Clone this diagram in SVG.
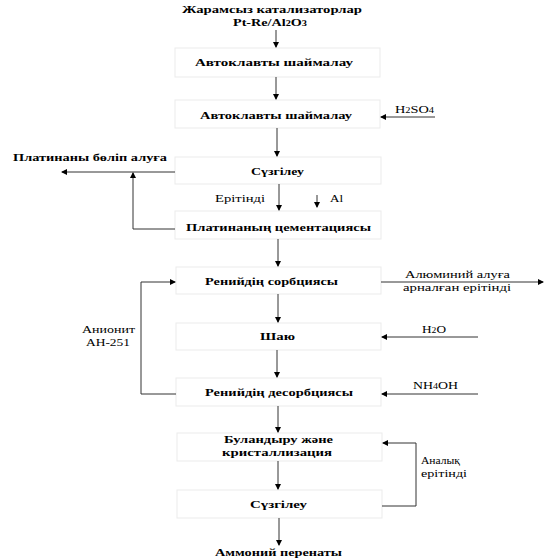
<svg xmlns="http://www.w3.org/2000/svg" width="553" height="560" viewBox="0 0 553 560">
<style>
.box{fill:#fff;stroke:#ebebeb;stroke-width:1}
.b{font-family:"Liberation Serif","Times New Roman",serif;font-weight:bold;font-size:11px;fill:#000}
.n{font-family:"Liberation Serif","Times New Roman",serif;font-size:11px;fill:#000}
.c{fill:none;stroke:#333;stroke-width:1}
</style>
<defs>
<marker id="ah" markerWidth="6" markerHeight="6" refX="5" refY="3" orient="auto" markerUnits="userSpaceOnUse">
<path d="M0,0 L6,3 L0,6 Z" fill="#000"/>
</marker>
</defs>
<rect width="553" height="560" fill="#fff"/>
<g id="start">
<text class="b" x="182" y="13" textLength="180" lengthAdjust="spacingAndGlyphs">Жарамсыз катализаторлар</text>
<text class="b" x="233" y="26" textLength="74" lengthAdjust="spacingAndGlyphs">Pt-Re/Al<tspan font-size="8">2</tspan>O<tspan font-size="8">3</tspan></text>
</g>
<g id="n1"><rect class="box" x="175" y="48" width="205" height="29"/>
<text class="b" x="195" y="66" textLength="158" lengthAdjust="spacingAndGlyphs">Автоклавты шаймалау</text></g>
<g id="n2"><rect class="box" x="175" y="100" width="205" height="28"/>
<text class="b" x="200" y="119" textLength="152" lengthAdjust="spacingAndGlyphs">Автоклавты шаймалау</text></g>
<g id="n3"><rect class="box" x="175" y="157" width="206" height="27"/>
<text class="b" x="251" y="175" textLength="53" lengthAdjust="spacingAndGlyphs">Сүзгілеу</text></g>
<g id="n4"><rect class="box" x="175" y="211" width="206" height="28"/>
<text class="b" x="186" y="231" textLength="185" lengthAdjust="spacingAndGlyphs">Платинаның цементациясы</text></g>
<g id="n5"><rect class="box" x="176" y="267" width="205" height="27"/>
<text class="b" x="205" y="285" textLength="133" lengthAdjust="spacingAndGlyphs">Ренийдің сорбциясы</text></g>
<g id="n6"><rect class="box" x="176" y="323" width="205" height="27"/>
<text class="b" x="260" y="340" textLength="35" lengthAdjust="spacingAndGlyphs">Шаю</text></g>
<g id="n7"><rect class="box" x="176" y="378" width="205" height="28"/>
<text class="b" x="205" y="396" textLength="148" lengthAdjust="spacingAndGlyphs">Ренийдің десорбциясы</text></g>
<g id="n8"><rect class="box" x="177" y="433" width="205" height="28"/>
<text class="b" x="224" y="443" textLength="109" lengthAdjust="spacingAndGlyphs">Буландыру және</text>
<text class="b" x="222" y="456" textLength="110" lengthAdjust="spacingAndGlyphs">кристаллизация</text></g>
<g id="n9"><rect class="box" x="177" y="490" width="205" height="28"/>
<text class="b" x="250" y="508" textLength="57" lengthAdjust="spacingAndGlyphs">Сүзгілеу</text></g>
<g id="end">
<text class="b" x="215" y="556" textLength="127" lengthAdjust="spacingAndGlyphs">Аммоний перенаты</text></g>
<g id="labels">
<text class="n" x="395" y="113" textLength="39" lengthAdjust="spacingAndGlyphs">H<tspan font-size="8">2</tspan>SO<tspan font-size="8">4</tspan></text>
<text class="b" x="13" y="161" textLength="154" lengthAdjust="spacingAndGlyphs">Платинаны бөліп алуға</text>
<text class="n" x="215" y="202" textLength="50" lengthAdjust="spacingAndGlyphs">Ерітінді</text>
<text class="n" x="330" y="202" textLength="13" lengthAdjust="spacingAndGlyphs">Al</text>
<text class="n" x="405" y="278" textLength="105" lengthAdjust="spacingAndGlyphs">Алюминий алуға</text>
<text class="n" x="403" y="291" textLength="108" lengthAdjust="spacingAndGlyphs">арналған ерітінді</text>
<text class="n" x="82" y="333" textLength="53" lengthAdjust="spacingAndGlyphs">Анионит</text>
<text class="n" x="86" y="346" textLength="44" lengthAdjust="spacingAndGlyphs">АН-251</text>
<text class="n" x="422" y="333" textLength="24" lengthAdjust="spacingAndGlyphs">H<tspan font-size="8">2</tspan>O</text>
<text class="n" x="413" y="389" textLength="45" lengthAdjust="spacingAndGlyphs">NH<tspan font-size="8">4</tspan>OH</text>
<text class="n" x="421" y="464" textLength="39" lengthAdjust="spacingAndGlyphs">Аналық</text>
<text class="n" x="421" y="477" textLength="46" lengthAdjust="spacingAndGlyphs">ерітінді</text>
</g>
<g id="connectors">
<line class="c" x1="276" y1="30" x2="276" y2="47" marker-end="url(#ah)"/>
<line class="c" x1="276" y1="77" x2="276" y2="99" marker-end="url(#ah)"/>
<line class="c" x1="435" y1="117" x2="381" y2="117" marker-end="url(#ah)"/>
<line class="c" x1="277" y1="128" x2="277" y2="156" marker-end="url(#ah)"/>
<line class="c" x1="175" y1="172" x2="62" y2="172" marker-end="url(#ah)"/>
<line class="c" x1="279" y1="184" x2="279" y2="210" marker-end="url(#ah)"/>
<line class="c" x1="317" y1="195" x2="317" y2="207" marker-end="url(#ah)"/>
<polyline class="c" points="175,229 133,229 133,173" marker-end="url(#ah)"/>
<line class="c" x1="278" y1="239" x2="278" y2="266" marker-end="url(#ah)"/>
<line class="c" x1="381" y1="282" x2="543" y2="282" marker-end="url(#ah)"/>
<line class="c" x1="278" y1="294" x2="278" y2="322" marker-end="url(#ah)"/>
<line class="c" x1="478" y1="337" x2="382" y2="337" marker-end="url(#ah)"/>
<line class="c" x1="277" y1="350" x2="277" y2="377" marker-end="url(#ah)"/>
<line class="c" x1="478" y1="394" x2="382" y2="394" marker-end="url(#ah)"/>
<polyline class="c" points="176,394 141,394 141,282 175,282" marker-end="url(#ah)"/>
<line class="c" x1="278" y1="406" x2="278" y2="432" marker-end="url(#ah)"/>
<line class="c" x1="278" y1="461" x2="278" y2="489" marker-end="url(#ah)"/>
<polyline class="c" points="382,506 416,506 416,443 383,443" marker-end="url(#ah)"/>
<line class="c" x1="279" y1="518" x2="279" y2="545" marker-end="url(#ah)"/>
</g>
</svg>
